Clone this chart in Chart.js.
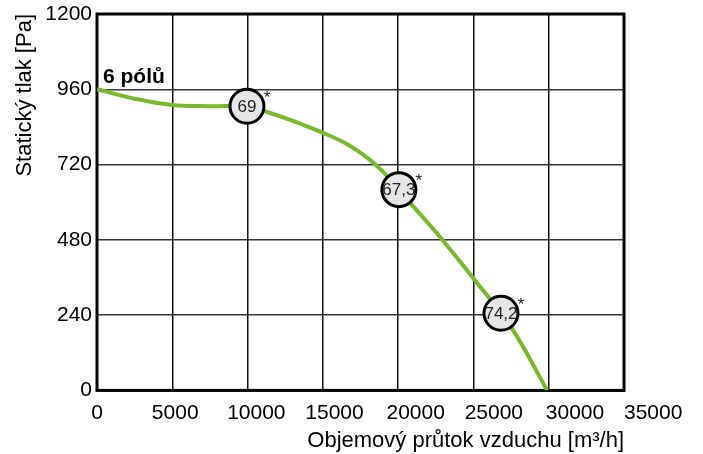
<!DOCTYPE html>
<html>
<head>
<meta charset="utf-8">
<script src="https://cdn.jsdelivr.net/npm/chart.js@4.4.1/dist/chart.umd.min.js"></script>
<style>
html, body { margin: 0; padding: 0; background: #fff; }
#wrap { width: 703px; height: 454px; }
</style>
</head>
<body>
<div id="wrap"><canvas id="myChart"></canvas></div>
<script>
// fan curve
var flowValues = [0, 2500, 5000, 7500, 10000, 12500, 15000, 16500, 18000, 19000, 20000, 22500, 25000, 27500, 29900];
var pressureValues = [960, 930, 910, 906, 903, 868, 821, 788, 740, 697, 640, 505, 357, 202, 0];

// noise level markers
var markerFlow = [9960, 20050, 26830];
var markerPressure = [906, 640, 246];
var markerLabels = ["69", "67,3", "74,2"];

var xTicks = [0, 5000, 10000, 15000, 20000, 25000, 30000, 35000];
var yTicks = [0, 240, 480, 720, 960, 1200];
var curveName = "6 pólů";

Chart.defaults.font.family = '"Liberation Sans", Arial, sans-serif';
Chart.defaults.color = '#000';

var curvePoints = flowValues.map(function(f, i) { return {x: f, y: pressureValues[i]}; });
var markerPoints = markerFlow.map(function(f, i) { return {x: f, y: markerPressure[i]}; });

var extras = {
  id: 'extras',
  beforeDatasetsDraw: function(chart) {
    var a = chart.chartArea;
    var c = chart.ctx;
    c.save();
    c.strokeStyle = '#000';
    c.lineWidth = 3;
    c.strokeRect(a.left, a.top, a.right - a.left, a.bottom - a.top);
    c.restore();
  },
  afterDatasetsDraw: function(chart) {
    var c = chart.ctx;
    var meta = chart.getDatasetMeta(1);
    c.save();
    c.fillStyle = '#222';
    c.textAlign = 'center';
    c.textBaseline = 'middle';
    meta.data.forEach(function(pt, i) {
      c.font = '17px "Liberation Sans", Arial, sans-serif';
      c.fillText(markerLabels[i], pt.x, pt.y + 1);
      c.font = '17px "Liberation Sans", Arial, sans-serif';
      c.fillText('*', pt.x + 20, pt.y - 8);
    });
    var x = chart.scales.x.getPixelForValue(flowValues[0]);
    var y = chart.scales.y.getPixelForValue(pressureValues[0]);
    c.fillStyle = '#000';
    c.textAlign = 'left';
    c.textBaseline = 'alphabetic';
    c.font = 'bold 21px "Liberation Sans", Arial, sans-serif';
    c.fillText(curveName, x + 6, y - 6);
    c.restore();
  }
};

var ctx = document.getElementById("myChart");
var myChart = new Chart(ctx, {
  type: 'scatter',
  data: {
    datasets: [{
      label: curveName,
      data: curvePoints,
      showLine: true,
      borderColor: '#78b928',
      borderWidth: 4,
      pointRadius: 0,
      tension: 0.4,
      order: 1
    }, {
      label: 'hluk',
      data: markerPoints,
      showLine: false,
      pointRadius: 17,
      pointBorderWidth: 3,
      pointBorderColor: '#000',
      pointBackgroundColor: '#e6e6e6',
      order: 0
    }]
  },
  options: {
    responsive: true,
    maintainAspectRatio: false,
    animation: false,
    layout: { autoPadding: false, padding: { left: 12, right: 79, top: 14, bottom: 0 } },
    plugins: {
      legend: { display: false },
      tooltip: { enabled: false }
    },
    scales: {
      x: {
        type: 'linear',
        min: xTicks[0],
        max: xTicks[xTicks.length - 1],
        afterBuildTicks: function(s) { s.ticks = xTicks.map(function(v) { return {value: v}; }); },
        ticks: {
          font: { size: 21 }, padding: 10, maxRotation: 0, autoSkip: false,
          // the labels in the original drift right of their grid lines
          callback: function(v, i) { return ' '.repeat(Math.round(i * 1.43)) + v; }
        },
        grid: { color: '#111', lineWidth: 1.5, drawTicks: false },
        border: { display: false },
        title: { display: true, text: 'Objemový průtok vzduchu [m³/h]', align: 'end', font: { size: 22 }, padding: { top: -8, bottom: 0 } }
      },
      y: {
        min: yTicks[0],
        max: yTicks[yTicks.length - 1],
        afterBuildTicks: function(s) { s.ticks = yTicks.map(function(v) { return {value: v}; }); },
        afterFit: function(s) { s.width = 85; },
        ticks: { font: { size: 21, lineHeight: 0.85 }, padding: 5, callback: function(v) { return String(v); } },
        grid: { color: '#333', lineWidth: 1.5, drawTicks: false },
        border: { display: false },
        title: { display: true, text: 'Statický tlak [Pa]', align: 'end', font: { size: 22 }, padding: { top: 0, bottom: 4 } }
      }
    }
  },
  plugins: [extras]
});
</script>
</body>
</html>
